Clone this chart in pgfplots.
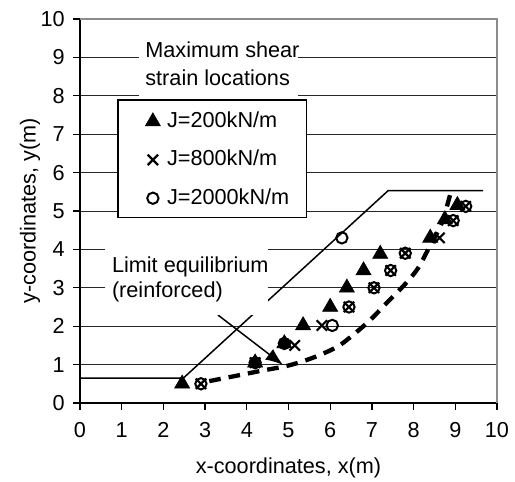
\documentclass[border=0pt]{standalone}
\usepackage{fontspec}
\setmainfont{Liberation Sans}
\usepackage{pgfplots}
\usepackage{pgfplotstable}
\pgfplotsset{compat=1.18}
\usetikzlibrary{arrows.meta}

\newcommand{\chartfont}{\fontsize{13}{16}\selectfont}
\pgfplotsset{onemark/.style={legend image code/.code={\draw[##1] plot coordinates {(0pt,0pt)};}}}

% J = 200 kN/m
\pgfplotstableread{
x y
2.45 0.50
4.20 1.05
4.90 1.55
5.35 2.02
6.00 2.50
6.40 3.00
6.80 3.45
7.20 3.88
8.40 4.30
8.75 4.78
9.05 5.15
}\tblA
% J = 800 kN/m
\pgfplotstableread{
x y
2.90 0.50
4.20 1.05
5.15 1.50
5.80 2.02
6.45 2.50
7.05 3.00
7.45 3.45
7.80 3.90
8.62 4.30
8.95 4.75
9.25 5.12
}\tblB
% J = 2000 kN/m
\pgfplotstableread{
x y
2.90 0.50
4.20 1.05
4.90 1.55
6.05 2.02
6.45 2.50
7.05 3.00
7.45 3.45
7.80 3.90
6.28 4.30
8.95 4.75
9.25 5.12
}\tblC

\begin{document}
\begin{tikzpicture}[font=\chartfont]
\path[use as bounding box] (-48pt,-47.4pt) rectangle (261pt,241.8pt);
\begin{axis}[
  at={(0,0)}, anchor=south west,
  scale only axis, width=250.2pt, height=230.4pt,
  xmin=0, xmax=10, ymin=0, ymax=10,
  xtick={0,1,...,10}, ytick={0,1,...,10},
  axis x line*=bottom, axis y line*=left,
  axis line style={-, black, line width=0.9pt},
  tick align=outside, major tick length=4.2pt,
  tick style={black, line width=0.8pt},
  ymajorgrids, major grid style={black!85, line width=0.55pt},
  /pgf/number format/assume math mode=true,
  tick label style={font=\chartfont},
  xticklabel style={yshift=-4pt},
  yticklabel style={xshift=-1.5pt},
  xlabel={x-coordinates, x(m)},
  ylabel={y-coordinates, y(m)},
  label style={font=\chartfont},
  xlabel style={at={(axis description cs:0.5,-0.169)}, anchor=center},
  ylabel style={at={(axis description cs:-0.12,0.5)}, anchor=center},
  legend style={draw=none, fill=none, inner sep=0pt,
    at={(axis cs:1.56,7.62)}, anchor=north west,
    row sep=10pt, /tikz/every odd column/.style={column sep=4pt},
    nodes={inner sep=0pt, text height=10pt, text depth=3pt}, font=\chartfont},
  legend cell align=left,
  clip=false,
]
% gray frame, top and right
\draw[black!45, line width=1.3pt] (rel axis cs:0,1) -- (rel axis cs:1,1) -- (rel axis cs:1,0);

% slope surface
\addplot[forget plot, black, line width=0.9pt] coordinates {(0,0.65) (2.48,0.65) (7.39,5.53) (9.67,5.53)};

% limit equilibrium surface (reinforced)
\addplot[forget plot, black, line width=2.6pt, dash pattern=on 7pt off 4.8pt, smooth] coordinates {
(3.1,0.57) (3.8,0.72) (4.4,0.85) (4.9,0.95) (5.3,1.07) (5.75,1.25) (6.25,1.52)
(6.9,2.1) (7.35,2.6) (7.8,3.1) (8.1,3.5) (8.35,4.0) (8.55,4.4) (8.7,4.75) (8.82,5.2) (8.92,5.6)};

\addplot[only marks, onemark, mark=triangle*, mark size=5.2pt, black] table {\tblA};
\addlegendentry{J=200kN/m}
\addplot[only marks, onemark, mark=x, mark size=4.4pt, black, line width=1.3pt] table {\tblB};
\addlegendentry{J=800kN/m}
\addplot[only marks, onemark, mark=o, mark size=3.4pt, black, line width=1.2pt] table {\tblC};
\addlegendentry{J=2000kN/m}

% title box
\fill[white] (axis cs:1.42,7.95) rectangle (axis cs:5.23,9.6);
\node[anchor=base west, align=left, inner sep=0pt, font=\fontsize{13}{16.8}\selectfont] at (axis cs:1.56,8.28) {Maximum shear\\strain locations};
% legend frame
\draw[black, line width=0.7pt, fill=white] (axis cs:0.91,7.89) rectangle (axis cs:5.44,4.84);

% limit equilibrium label and arrow
\draw[black, line width=0.9pt, -{Latex[length=10.5pt, width=8pt]}] (axis cs:3.31,2.29) -- (axis cs:4.87,0.99);
\fill[white] (axis cs:0.6,4.45) rectangle (axis cs:4.51,2.29);
\node[anchor=base west, align=left, inner sep=0pt, font=\fontsize{13}{15}\selectfont] at (axis cs:0.76,2.76) {Limit equilibrium\\(reinforced)};
\end{axis}
\end{tikzpicture}
\end{document}
